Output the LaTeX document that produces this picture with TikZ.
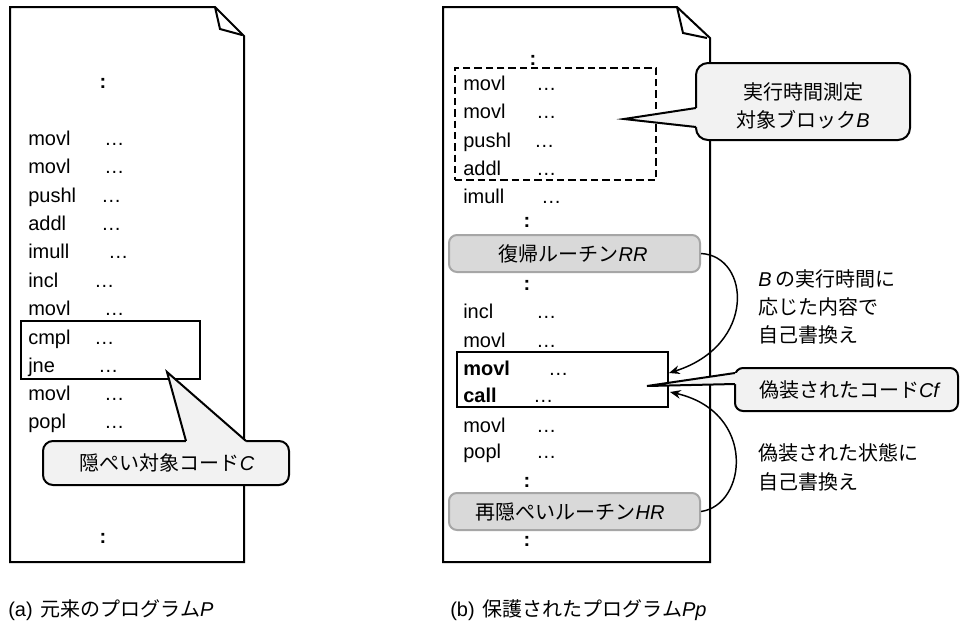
\documentclass[tikz,border=0pt]{standalone}
\usepackage{fontspec}
\setmainfont{Liberation Sans}
\newfontfamily\jp{Noto Sans CJK JP}
\usetikzlibrary{arrows.meta,fit,calc}
\newcommand\vi[1]{{\rmfamily\itshape #1}}
\definecolor{calloutgray}{HTML}{F2F2F2}
\definecolor{routinefill}{HTML}{D9D9D9}
\definecolor{routineedge}{HTML}{A6A6A6}
\begin{document}
\begin{tikzpicture}[x=0.75pt,y=-0.75pt,
  font=\fontsize{15}{21.3}\selectfont,
  doc/.style={line width=1.5pt, line join=miter, fill=white},
  fold/.style={line width=1.5pt, line join=miter},
  code/.style={anchor=west, inner sep=0pt, text height=11pt, text depth=3pt},
  dots/.style={anchor=west, inner sep=0pt, text height=11pt, text depth=3pt},
  colon/.style={inner sep=0pt, font=\fontsize{15}{18}\selectfont\bfseries},
  codebox/.style={draw, line width=1.5pt, inner sep=0pt},
  dashbox/.style={draw, line width=1.5pt, dash pattern=on 5.5pt off 3pt, inner sep=0pt},
  routine/.style={draw=routineedge, fill=routinefill, line width=1.5pt, rounded corners=6pt, inner sep=0pt},
  callout/.style={draw, fill=calloutgray, line width=1.5pt, rounded corners=7.5pt, inner sep=0pt},
  tailfill/.style={fill=calloutgray},
  tail/.style={line width=1.5pt, line join=miter},
  arr/.style={line width=1.1pt, -{Stealth[length=8pt,width=6.5pt]}},
  note/.style={anchor=west, align=left, inner sep=0pt},
]
\useasboundingbox (0,0) rectangle (960,632);

% ---------- left document ----------
\draw[doc] (10,7) -- (215,7) -- (244,36) -- (244,562) -- (10,562) -- cycle;
\draw[fold] (215,7) -- (220,29) -- (242,35);
\node[colon] (la0) at (103,83) {:};
\node[code] (la1) at (28,140) {movl};  \node[dots] (da1) at (104,140) {…};
\node[code] (la2) at (28,168) {movl};  \node[dots] (da2) at (104,168) {…};
\node[code] (la3) at (28,197) {pushl}; \node[dots] (da3) at (101,197) {…};
\node[code] (la4) at (28,225) {addl};  \node[dots] (da4) at (101,225) {…};
\node[code] (la5) at (28,253) {imull}; \node[dots] (da5) at (108,253) {…};
\node[code] (la6) at (28,282) {incl};  \node[dots] (da6) at (94,282) {…};
\node[code] (la7) at (28,310) {movl};  \node[dots] (da7) at (104,310) {…};
\node[code] (la8) at (28,339) {cmpl};  \node[dots] (da8) at (94,339) {…};
\node[code] (la9) at (28,367) {jne};   \node[dots] (da9) at (98,367) {…};
\node[code] (la10) at (28,395) {movl}; \node[dots] (da10) at (104,395) {…};
\node[code] (la11) at (28,423) {popl}; \node[dots] (da11) at (104,423) {…};
\node[colon] (la12) at (103,538) {:};
\node[codebox, fit={(21,321) (200,379)}] (cbox) {};

% callout C
\coordinate (Ctip) at (167,372);
\coordinate (Cb1) at (186,441);
\coordinate (Cb2) at (246,441);
\node[callout, fit={(43,441) (289,485)}] (cC) {};
\fill[tailfill] (Cb1) -- (Ctip) -- (Cb2) -- ++(0,5) -- ($(Cb1)+(0,5)$) -- cycle;
\draw[tail] (Cb1) -- (Ctip) -- (Cb2);
\node (cCt) at (167,463) {\jp 隠ぺい対象コード\vi{C}};

% ---------- right document ----------
\draw[doc] (443,7) -- (677,7) -- (710,38) -- (710,562) -- (443,562) -- cycle;
\draw[fold] (677,7) -- (683,33) -- (707,38);
\node[colon] (rb0) at (533,60) {:};
\node[code] (rb1) at (463,85) {movl};   \node[dots] (db1) at (536,85) {…};
\node[code] (rb2) at (463,113) {movl};  \node[dots] (db2) at (536,113) {…};
\node[code] (rb3) at (463,142) {pushl}; \node[dots] (db3) at (534,142) {…};
\node[code] (rb4) at (463,170) {addl};  \node[dots] (db4) at (536,170) {…};
\node[code] (rb5) at (463,198) {imull}; \node[dots] (db5) at (541,198) {…};
\node[colon] (rb6) at (527,222) {:};
\node[routine, fit={(449,235) (700,272)}] (rr) {};
\node (rrt) at (573,253.5) {\jp 復帰ルーチン\vi{RR}};
\node[colon] (rb7) at (527,285) {:};
\node[code] (rb8) at (463,313) {incl};  \node[dots] (db8) at (536,313) {…};
\node[code] (rb9) at (463,342) {movl};  \node[dots] (db9) at (536,342) {…};
\node[code] (rb10) at (463,370) {\textbf{movl}}; \node[dots] (db10) at (548,370) {…};
\node[code] (rb11) at (463,397) {\textbf{call}}; \node[dots] (db11) at (533,397) {…};
\node[code] (rb12) at (463,427) {movl}; \node[dots] (db12) at (536,427) {…};
\node[code] (rb13) at (463,453) {popl}; \node[dots] (db13) at (536,453) {…};
\node[colon] (rb14) at (527,482) {:};
\node[routine, fit={(449,493) (700,530)}] (hr) {};
\node (hrt) at (570,511.5) {\jp 再隠ぺいルーチン\vi{HR}};
\node[colon] (rb15) at (527,541) {:};
\node[dashbox, fit={(455,68) (656,180)}] (bblock) {};
\node[codebox, fit={(457,352) (668,407)}] (cf) {};

% arrows
\coordinate (in1) at (669,373);
\coordinate (in2) at (670,392);
\draw[arr] (rr.east) .. controls (750,256) and (757,345) .. (in1);
\draw[arr] (hr.east) .. controls (747,505) and (757,412) .. (in2);
\node[note] (n1) at (758,307) {\vi{B}\hspace{3pt}{\jp の実行時間に}\\{\jp 応じた内容で}\\{\jp 自己書換え}};
\node[note] (n2) at (758,467.5) {{\jp 偽装された状態に}\\{\jp 自己書換え}};

% callout B
\coordinate (Btip) at (624,119);
\coordinate (Bb1) at (696,108);
\coordinate (Bb2) at (696,127);
\node[callout, rounded corners=9pt, fit={(696,63) (910,140)}] (cB) {};
\fill[tailfill] (Bb1) -- (Btip) -- (Bb2) -- ++(5,0) -- ($(Bb1)+(5,0)$) -- cycle;
\draw[tail] (Bb1) -- (Btip) -- (Bb2);
\node[align=center] (cBt) at (803,106) {\jp 実行時間測定\\\jp 対象ブロック\vi{B}};

% callout Cf
\coordinate (Ftip) at (647,386);
\coordinate (Fb1) at (735,373);
\coordinate (Fb2) at (735,384);
\node[callout, rounded corners=6pt, fit={(735,368) (958,411)}] (cCf) {};
\fill[tailfill] (Fb1) -- (Ftip) -- (Fb2) -- ++(5,0) -- ($(Fb1)+(5,0)$) -- cycle;
\draw[tail] (Fb1) -- (Ftip) -- (Fb2);
\node (cCft) at (849,390) {\jp 偽装されたコード\vi{Cf}};

% captions
\node[anchor=west, inner sep=0pt] (capa) at (8,610) {(a)\hspace{6pt}{\jp 元来のプログラム}\vi{P}};
\node[anchor=west, inner sep=0pt] (capb) at (450,610) {(b)\hspace{6pt}{\jp 保護されたプログラム}\vi{Pp}};
\end{tikzpicture}
\end{document}
